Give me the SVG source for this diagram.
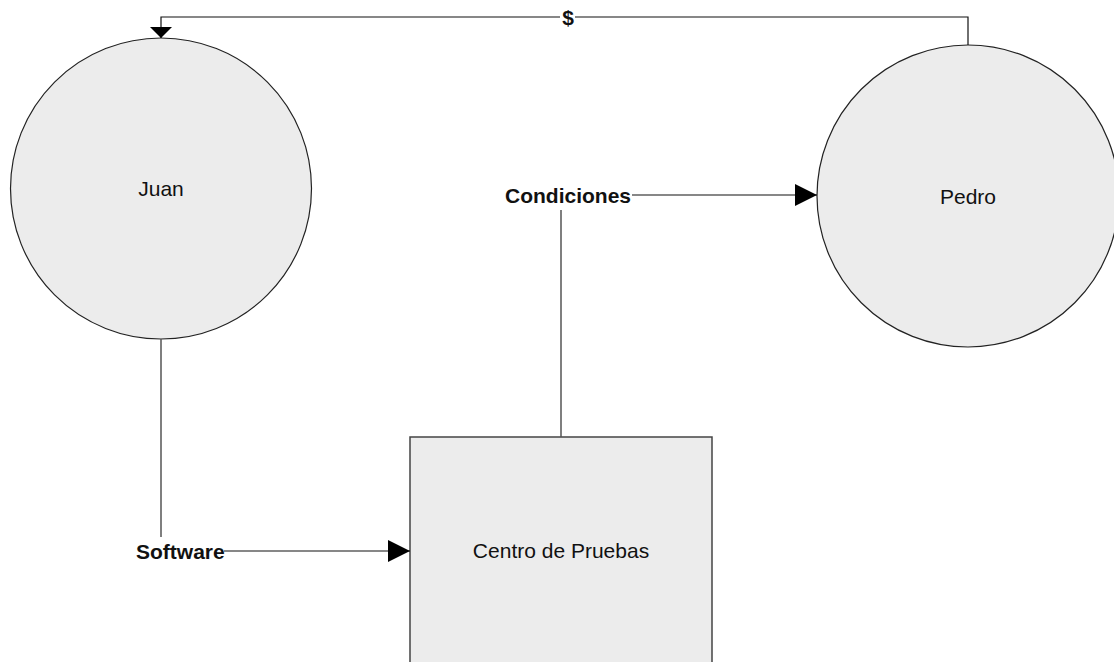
<svg xmlns="http://www.w3.org/2000/svg" width="1114" height="662" viewBox="0 0 1114 662">
  <style>
    .node { fill: #ececec; stroke: #222; stroke-width: 1.2; }
    .box { fill: #ececec; stroke: #444; stroke-width: 1.5; }
    .name { font-family: "Liberation Sans", Arial, sans-serif; font-size: 21px; fill: #111; text-anchor: middle; dominant-baseline: central; }
    .flow { font-family: "Liberation Sans", Arial, sans-serif; font-size: 21px; font-weight: bold; fill: #111; dominant-baseline: central; }
    .wire { fill: none; stroke: #111; stroke-width: 1.2; }
    .stem { fill: none; stroke: #555; stroke-width: 1.5; }
  </style>
  <defs>
    <marker id="tri" viewBox="0 0 22 22" refX="22" refY="11" markerWidth="22" markerHeight="22" markerUnits="userSpaceOnUse" orient="auto">
      <path d="M0,0 L22,11 L0,22 Z" fill="#000"/>
    </marker>
    <marker id="tri-flat" viewBox="0 0 11 22" refX="11" refY="11" markerWidth="11" markerHeight="22" markerUnits="userSpaceOnUse" orient="auto">
      <path d="M0,0 L11,11 L0,22 Z" fill="#000"/>
    </marker>
  </defs>
  <rect width="1114" height="662" fill="#fff"/>

  <g id="juan">
    <circle class="node" cx="161" cy="188.5" r="150.5"/>
    <text class="name" x="161" y="188">Juan</text>
  </g>

  <g id="pedro">
    <circle class="node" cx="968" cy="196" r="151"/>
    <text class="name" x="968" y="196">Pedro</text>
  </g>

  <g id="centro-de-pruebas">
    <rect class="box" x="410" y="437" width="302" height="240"/>
    <text class="name" x="561" y="550">Centro de Pruebas</text>
  </g>

  <g id="connectors">
    <!-- $ : Pedro back to Juan over the top -->
    <path class="wire" d="M968,45 V17 H575"/>
    <path class="wire" d="M560,17 H161 V38" marker-end="url(#tri-flat)"/>
    <text class="flow" x="568" y="17" text-anchor="middle">$</text>

    <!-- Condiciones : Centro de Pruebas to Pedro -->
    <path class="stem" d="M561,437 V210"/>
    <path class="wire" d="M632,195 H817" marker-end="url(#tri)"/>
    <text class="flow" x="505" y="195">Condiciones</text>

    <!-- Software : Juan to Centro de Pruebas -->
    <path class="stem" d="M161,339 V537"/>
    <path class="wire" d="M224,551 H410" marker-end="url(#tri)"/>
    <text class="flow" x="136" y="551">Software</text>
  </g>
</svg>
